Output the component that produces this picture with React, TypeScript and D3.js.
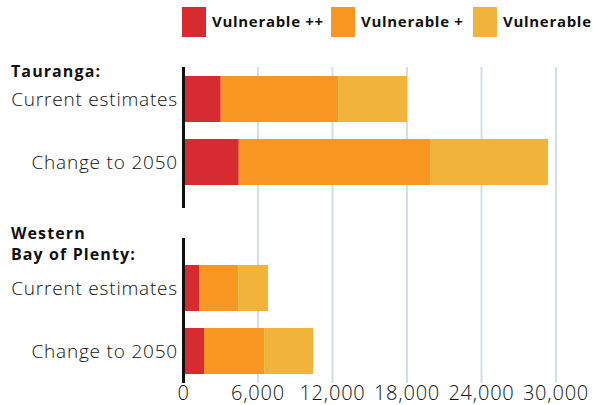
import React, { useEffect, useRef } from 'react';
import * as d3 from 'd3';

const seriesKeys = ['vpp', 'vp', 'v'];
const seriesLabels = ['Vulnerable ++', 'Vulnerable +', 'Vulnerable'];
const seriesColors = ['#d72b32', '#f79620', '#f2b33a'];

const categories = ['Current estimates', 'Change to 2050'];
const groupTitles = [['Tauranga:'], ['Western', 'Bay of Plenty:']];

// values per category, per group (stack order: ++, +, plain)
const taurangaVpp = [3000, 4450];
const taurangaVp = [9450, 15400];
const taurangaV = [5550, 9500];
const wbopVpp = [1250, 1650];
const wbopVp = [3150, 4850];
const wbopV = [2400, 3950];

const xTicks = [0, 6000, 12000, 18000, 24000, 30000];

const FONT = '"Open Sans", sans-serif';

const App: React.FC = () => {
  const ref = useRef<SVGSVGElement>(null);

  useEffect(() => {
    const svg = d3.select(ref.current);
    svg.selectAll('*').remove();

    const x = d3.scaleLinear().domain([0, 30000]).range([183.5, 556]);
    const y = d3.scaleBand().domain(categories).range([0, 109]).paddingInner(0.27).paddingOuter(0);

    const groups = [
      { vpp: taurangaVpp, vp: taurangaVp, v: taurangaV, top: 76, axisTop: -9, axisBottom: 132, title: groupTitles[0], titleY: 77 },
      { vpp: wbopVpp, vp: wbopVp, v: wbopV, top: 265, axisTop: -27, axisBottom: 118, title: groupTitles[1], titleY: 239 },
    ];

    // gridlines
    svg
      .append('g')
      .selectAll('line')
      .data(xTicks.slice(1))
      .join('line')
      .attr('x1', (d) => x(d))
      .attr('x2', (d) => x(d))
      .attr('y1', 67)
      .attr('y2', 383)
      .attr('stroke', '#d3dee8')
      .attr('stroke-width', 2);

    // x tick labels
    svg
      .append('g')
      .selectAll('text')
      .data(xTicks)
      .join('text')
      .attr('x', (d) => x(d))
      .attr('y', 400)
      .attr('text-anchor', 'middle')
      .attr('font-family', FONT)
      .attr('font-weight', 300)
      .attr('font-size', 20)
      .attr('letter-spacing', 0.8)
      .attr('fill', '#111')
      .text((d) => d3.format(',')(d));

    groups.forEach((grp) => {
      const rows = categories.map((c, i) => ({ cat: c, vpp: grp.vpp[i], vp: grp.vp[i], v: grp.v[i] }));
      const stacked = d3.stack<any>().keys(seriesKeys)(rows);
      const g = svg.append('g').attr('transform', `translate(0,${grp.top})`);

      g.selectAll('g.series')
        .data(stacked)
        .join('g')
        .attr('class', 'series')
        .attr('fill', (_, i) => seriesColors[i])
        .selectAll('rect')
        .data((s) => s)
        .join('rect')
        .attr('x', (d) => x(d[0]))
        .attr('width', (d) => x(d[1]) - x(d[0]))
        .attr('y', (d) => y(d.data.cat) ?? 0)
        .attr('height', y.bandwidth());

      g.append('line')
        .attr('x1', x(0))
        .attr('x2', x(0))
        .attr('y1', grp.axisTop)
        .attr('y2', grp.axisBottom)
        .attr('stroke', '#111')
        .attr('stroke-width', 3);

      g.selectAll('text.cat')
        .data(categories)
        .join('text')
        .attr('class', 'cat')
        .attr('x', 178)
        .attr('y', (d) => (y(d) ?? 0) + y.bandwidth() / 2)
        .attr('dy', '0.35em')
        .attr('text-anchor', 'end')
        .attr('font-family', FONT)
        .attr('font-weight', 300)
        .attr('font-size', 19)
        .attr('letter-spacing', 0.8)
        .attr('fill', '#111')
        .text((d) => d);

      svg
        .append('g')
        .selectAll('text')
        .data(grp.title)
        .join('text')
        .attr('x', 11)
        .attr('y', (_, i) => grp.titleY + i * 21)
        .attr('font-family', FONT)
        .attr('font-weight', 700)
        .attr('font-size', 16)
        .attr('letter-spacing', 1.1)
        .attr('fill', '#111')
        .text((d) => d);
    });

    // legend
    const legendX = [182, 331, 473];
    const lg = svg
      .append('g')
      .selectAll('g')
      .data(seriesLabels)
      .join('g')
      .attr('transform', (_, i) => `translate(${legendX[i]},7)`);
    lg.append('rect').attr('width', 24).attr('height', 30).attr('fill', (_, i) => seriesColors[i]);
    lg.append('text')
      .attr('x', 30)
      .attr('y', 15)
      .attr('dy', '0.35em')
      .attr('font-family', FONT)
      .attr('font-weight', 700)
      .attr('font-size', 15)
      .attr('letter-spacing', 0.7)
      .attr('fill', '#111')
      .text((d) => d);
  }, []);

  return <svg ref={ref} width={594} height={405} style={{ position: 'absolute', left: 0, top: 0 }} />;
};

export default App;
